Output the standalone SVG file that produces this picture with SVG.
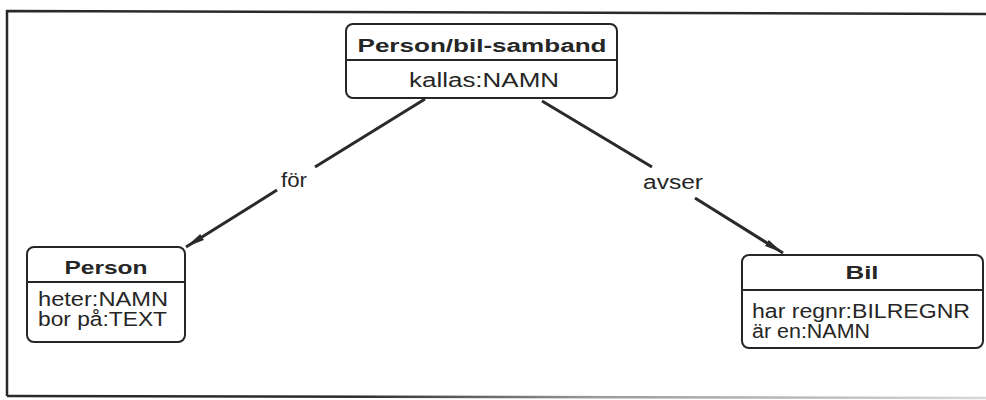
<svg xmlns="http://www.w3.org/2000/svg" width="986" height="400" viewBox="0 0 986 400">
  <defs>
    <style>
      .box { fill: #ffffff; stroke: #262626; stroke-width: 2; }
      .div { stroke: #262626; stroke-width: 2; }
      .title { font-family: "Liberation Sans", Arial, sans-serif; font-weight: bold; font-size: 18px; fill: #262626; }
      .attr { font-family: "Liberation Sans", Arial, sans-serif; font-size: 20px; fill: #262626; }
      .lbl { font-family: "Liberation Sans", Arial, sans-serif; font-size: 20px; fill: #262626; }
      .edge { stroke: #2a2a2a; stroke-width: 3; fill: none; }
      .frame { stroke: #2a2a2a; stroke-width: 2.5; fill: none; }
    </style>
    <marker id="arrow" markerUnits="userSpaceOnUse" markerWidth="20" markerHeight="10" refX="19" refY="5" orient="auto">
      <path d="M0,1.5 L19,5 L0,8.5 z" fill="#2a2a2a"/>
    </marker>
    <linearGradient id="fade" x1="0" y1="0" x2="1" y2="0">
      <stop offset="0" stop-color="#2a2a2a"/>
      <stop offset="0.35" stop-color="#2a2a2a"/>
      <stop offset="0.6" stop-color="#9a9a9a"/>
      <stop offset="1" stop-color="#d8d8d8"/>
    </linearGradient>
  </defs>

  <rect x="0" y="0" width="986" height="400" fill="#ffffff"/>

  <!-- outer frame -->
  <g id="frame">
    <path class="frame" d="M986,14 L7,11 L7,396"/>
    <line x1="7" y1="396" x2="986" y2="398" stroke="url(#fade)" stroke-width="2.5"/>
  </g>

  <!-- connectors -->
  <g id="connectors">
    <line class="edge" x1="425" y1="99" x2="315" y2="167"/>
    <line class="edge" x1="277" y1="190" x2="186" y2="247" marker-end="url(#arrow)"/>
    <text class="lbl" x="294" y="187" text-anchor="middle" textLength="26" lengthAdjust="spacingAndGlyphs">för</text>

    <line class="edge" x1="542" y1="101" x2="652" y2="167"/>
    <line class="edge" x1="695" y1="198" x2="783" y2="253" marker-end="url(#arrow)"/>
    <text class="lbl" x="673" y="189" text-anchor="middle" textLength="60" lengthAdjust="spacingAndGlyphs">avser</text>
  </g>

  <!-- Person/bil-samband -->
  <g id="samband">
    <rect class="box" x="346" y="24" width="271" height="74" rx="7"/>
    <line class="div" x1="346" y1="60" x2="617" y2="60"/>
    <text class="title" x="482" y="52" text-anchor="middle" textLength="249" lengthAdjust="spacingAndGlyphs">Person/bil-samband</text>
    <text class="attr" x="484" y="87" text-anchor="middle" textLength="150" lengthAdjust="spacingAndGlyphs">kallas:NAMN</text>
  </g>

  <!-- Person -->
  <g id="person">
    <rect class="box" x="27" y="247" width="158" height="95" rx="7"/>
    <line class="div" x1="27" y1="282" x2="185" y2="282"/>
    <text class="title" x="106" y="274" text-anchor="middle" textLength="83" lengthAdjust="spacingAndGlyphs">Person</text>
    <text class="attr" x="38" y="306" textLength="130" lengthAdjust="spacingAndGlyphs">heter:NAMN</text>
    <text class="attr" x="38" y="326" textLength="129" lengthAdjust="spacingAndGlyphs">bor på:TEXT</text>
  </g>

  <!-- Bil -->
  <g id="bil">
    <rect class="box" x="742" y="255" width="241" height="93" rx="7"/>
    <line class="div" x1="742" y1="290" x2="983" y2="290"/>
    <text class="title" x="862" y="279" text-anchor="middle" textLength="33" lengthAdjust="spacingAndGlyphs">Bil</text>
    <text class="attr" x="752" y="318" textLength="218" lengthAdjust="spacingAndGlyphs">har regnr:BILREGNR</text>
    <text class="attr" x="752" y="338" textLength="118" lengthAdjust="spacingAndGlyphs">är en:NAMN</text>
  </g>
</svg>
